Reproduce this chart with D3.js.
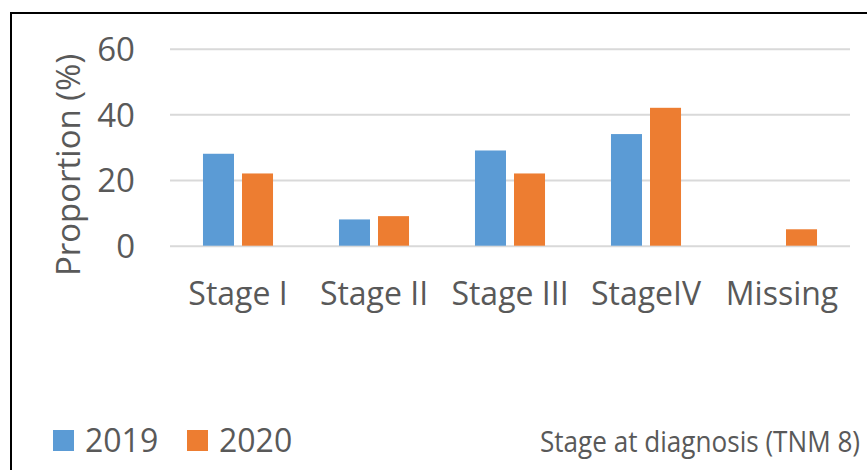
<!DOCTYPE html>
<html lang="en">
<head>
    <meta charset="UTF-8">
    <title>Stage at diagnosis</title>
    <script src="https://cdn.jsdelivr.net/npm/d3@7"></script>
    <style>
        body { margin: 0; background: #fff; }
        text { font-family: "Open Sans", sans-serif; fill: #595959; }
    </style>
</head>
<body>

    <script>

        var categories = ["Stage I", "Stage II", "Stage III", "StageIV", "Missing"];
        var years = ["2019", "2020"];
        var values2019 = [28, 8, 29, 34, null];
        var values2020 = [22, 9, 22, 42, 5];
        var yTicks = [0, 20, 40, 60];
        var colors = ["#5b9bd5", "#ed7d31"];

        var width = 867;
        var height = 470;

        var rows = categories.map(function (c, i) {
            return { cat: c, vals: [values2019[i], values2020[i]] };
        });

        var svg = d3.select("body")
            .append("svg")
            .attr("width", width)
            .attr("height", height);

        // chart frame (cut off at right and bottom)
        svg.append("rect")
            .attr("x", 11)
            .attr("y", 13)
            .attr("width", 900)
            .attr("height", 500)
            .attr("fill", "none")
            .attr("stroke", "#000")
            .attr("stroke-width", 2);

        var x = d3.scaleBand()
            .domain(categories)
            .range([170, 850])
            .paddingInner(0.485)
            .paddingOuter(0.2425);

        var xSub = d3.scaleBand()
            .domain(years)
            .range([0, x.bandwidth()])
            .paddingInner(0.205);

        var y = d3.scaleLinear()
            .domain([0, 60])
            .range([245.7, 48.7]);

        var yAxis = d3.axisLeft(y)
            .tickValues(yTicks)
            .tickSize(-680)
            .tickPadding(35);

        var gy = svg.append("g")
            .attr("transform", "translate(170,0)")
            .call(yAxis);
        gy.select(".domain").remove();
        gy.selectAll(".tick line")
            .attr("stroke", "#d9d9d9")
            .attr("stroke-width", 2);
        gy.selectAll(".tick text")
            .attr("font-size", 33)
            .attr("dy", "0.36em")
            .attr("fill", "#595959");

        var groups = svg.append("g")
            .selectAll("g")
            .data(rows)
            .enter()
                .append("g")
                .attr("transform", function (d) { return "translate(" + x(d.cat) + ",0)"; });

        groups.selectAll("rect")
            .data(function (d) {
                return d.vals.map(function (v, j) { return { year: years[j], v: v, j: j }; })
                    .filter(function (e) { return e.v != null; });
            })
            .enter()
                .append("rect")
                .attr("x", function (d) { return xSub(d.year); })
                .attr("width", xSub.bandwidth())
                .attr("y", function (d) { return y(d.v); })
                .attr("height", function (d) { return y(0) - y(d.v); })
                .attr("fill", function (d) { return colors[d.j]; });

        var xAxis = d3.axisBottom(x)
            .tickSize(0)
            .tickPadding(36.5);

        var gx = svg.append("g")
            .attr("transform", "translate(0," + y(0) + ")")
            .call(xAxis);
        gx.select(".domain").remove();
        gx.selectAll(".tick text")
            .attr("font-size", 32)
            .attr("fill", "#595959");

        // y axis title
        svg.append("text")
            .attr("transform", "translate(80,165) rotate(-90)")
            .attr("text-anchor", "middle")
            .attr("font-size", 33)
            .text("Proportion (%)");

        // legend
        var legend = svg.append("g")
            .selectAll("g")
            .data(years)
            .enter()
                .append("g")
                .attr("transform", function (d, i) { return "translate(" + (53 + i * 134) + ",430)"; });

        legend.append("rect")
            .attr("width", 21)
            .attr("height", 21)
            .attr("fill", function (d, i) { return colors[i]; });

        legend.append("text")
            .attr("x", 32)
            .attr("y", 22)
            .attr("font-size", 32)
            .text(function (d) { return d; });

        // x axis title, squeezed a little to fit like the narrower original font
        svg.append("text")
            .attr("transform", "translate(540,452) scale(0.87,1)")
            .attr("font-size", 30)
            .text("Stage at diagnosis (TNM 8)");

    </script>

</body>
</html>
